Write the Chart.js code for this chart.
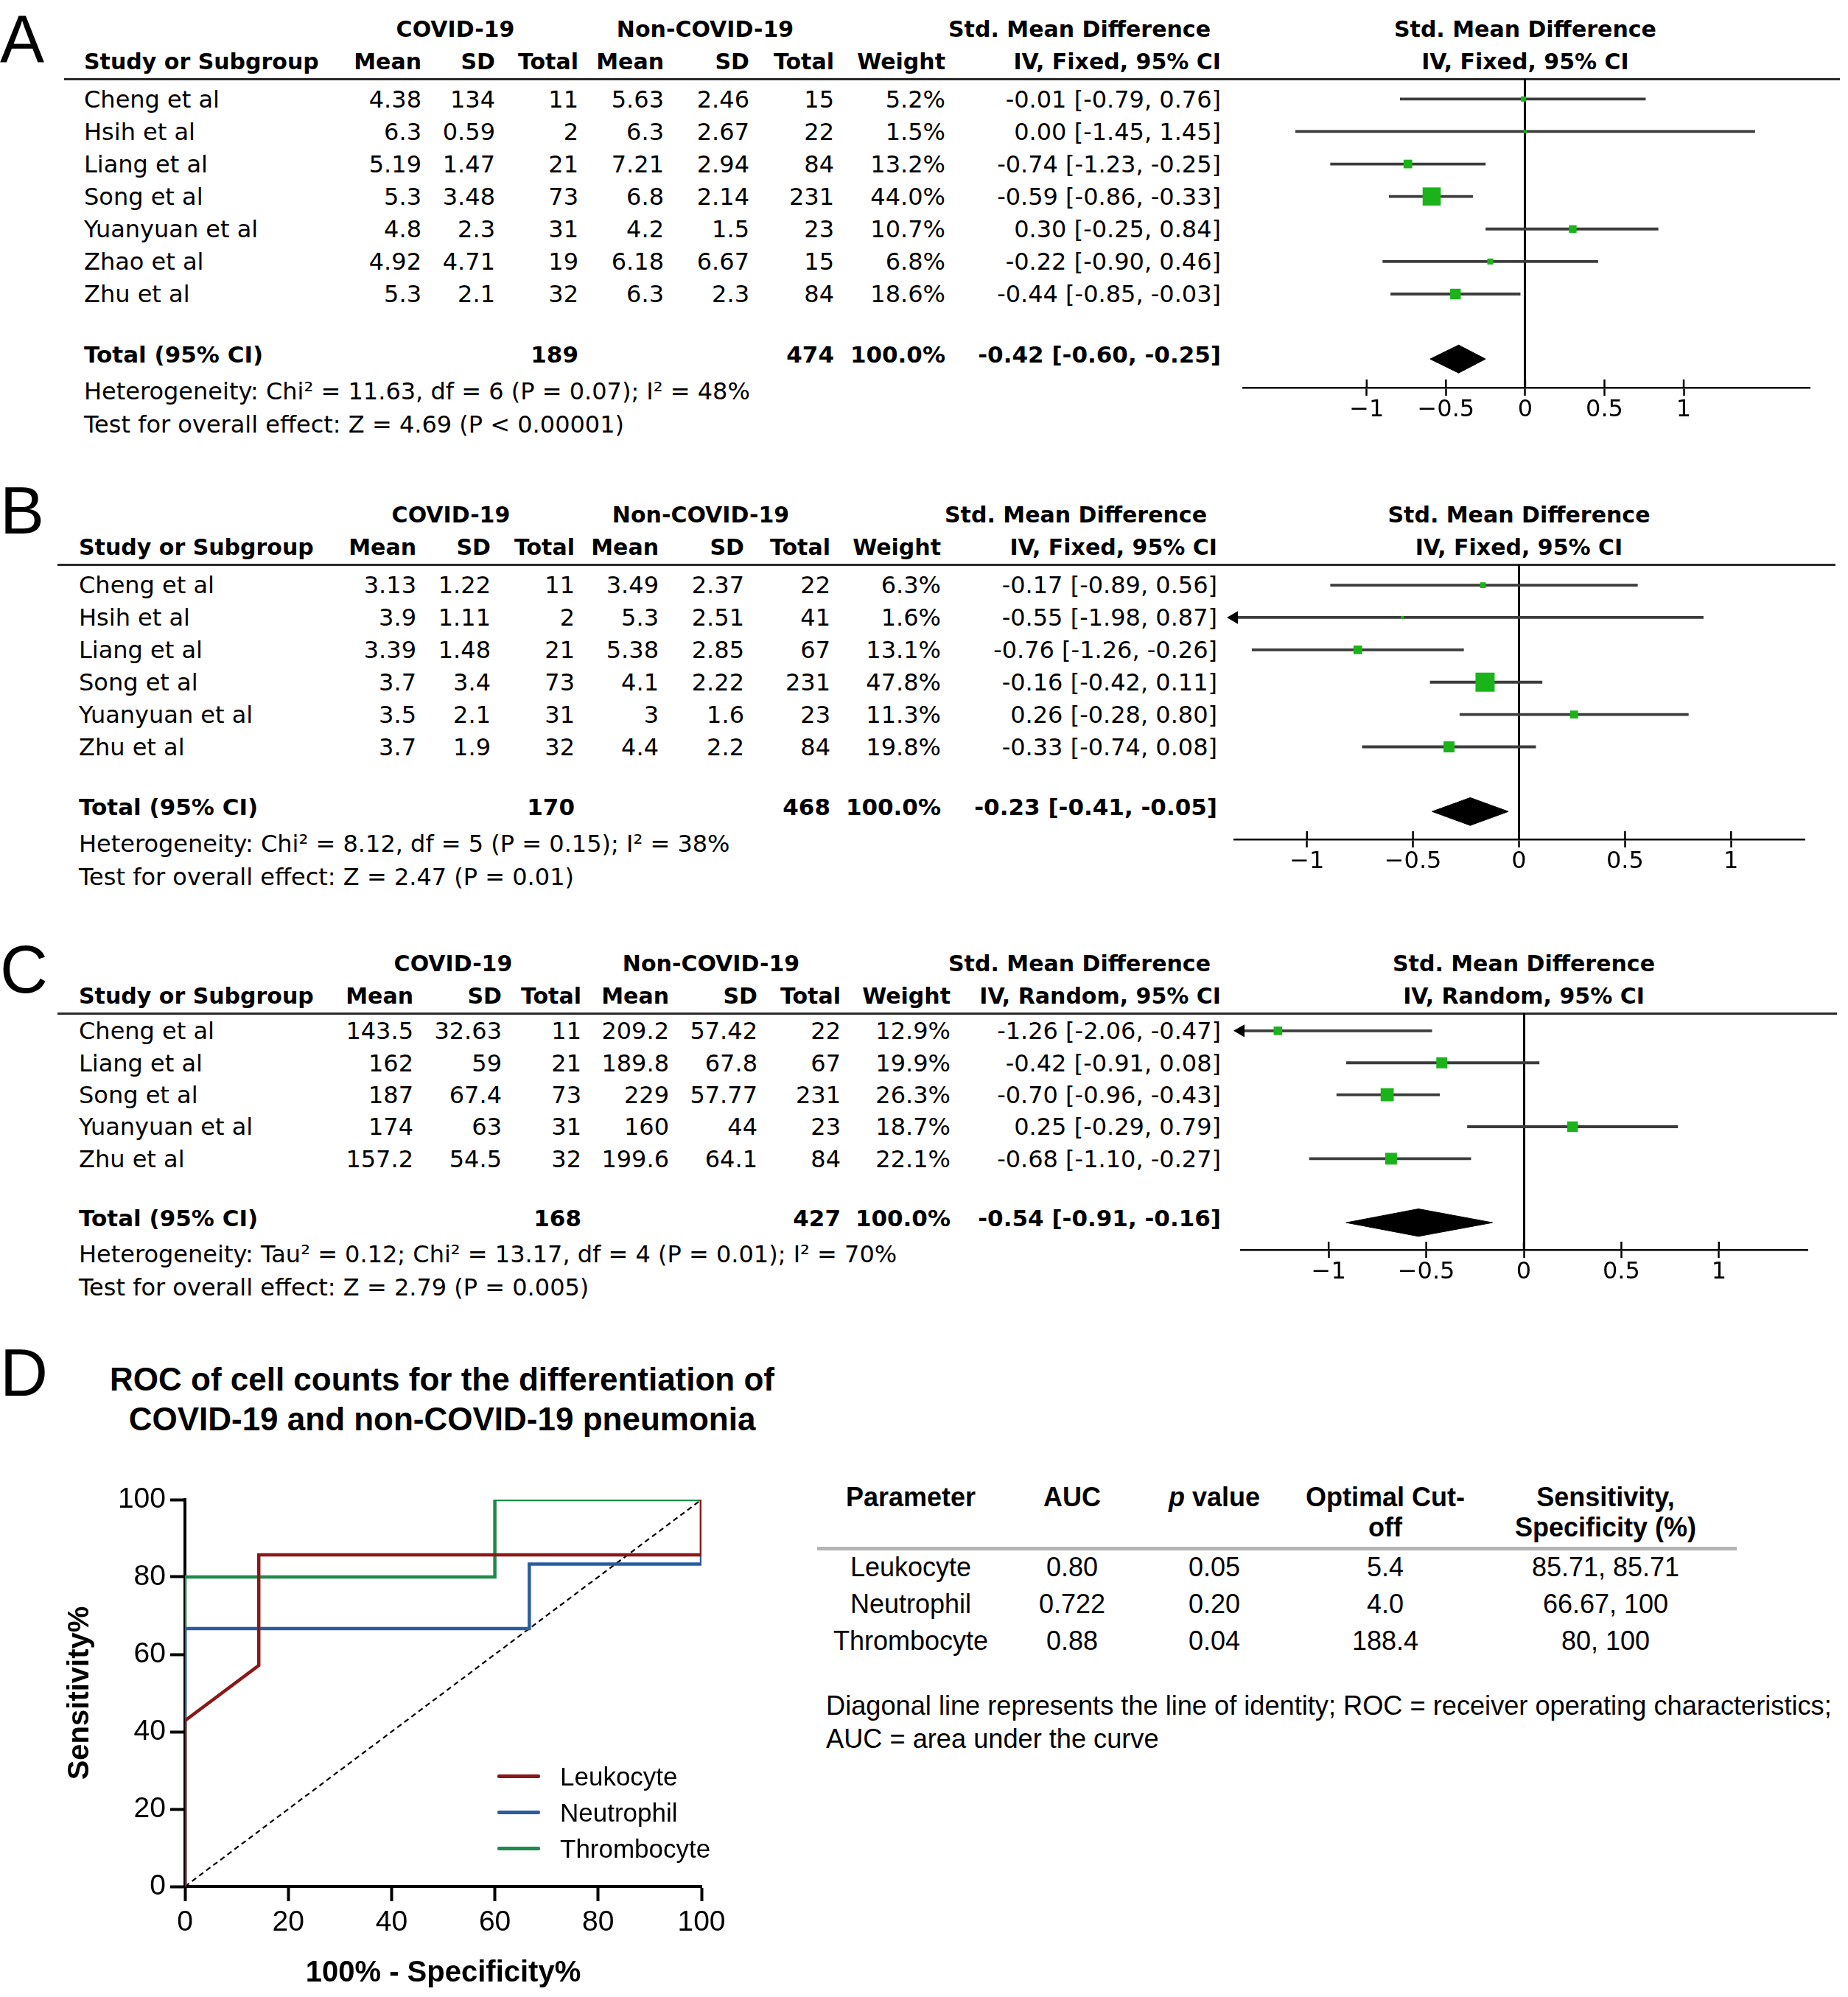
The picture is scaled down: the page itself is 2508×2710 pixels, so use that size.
<!DOCTYPE html>
<html><head><meta charset="utf-8">
<script src="https://cdn.jsdelivr.net/npm/chart.js@4.4.1/dist/chart.umd.min.js"></script>
<style>
html,body{margin:0;padding:0;background:#fff;}
body{width:2508px;height:2710px;position:relative;overflow:hidden;}
.t{position:absolute;white-space:nowrap;line-height:1;color:#000;}
canvas{position:absolute;}
.rule{position:absolute;}
</style></head><body>
<script>
// ---------------- DATA: Panel A ----------------
const aStudies   = ['Cheng et al','Hsih et al','Liang et al','Song et al','Yuanyuan et al','Zhao et al','Zhu et al'];
const aCovidMean = [4.38, 6.3, 5.19, 5.3, 4.8, 4.92, 5.3];
const aCovidSD   = [134, 0.59, 1.47, 3.48, 2.3, 4.71, 2.1];
const aCovidN    = [11, 2, 21, 73, 31, 19, 32];
const aNonMean   = [5.63, 6.3, 7.21, 6.8, 4.2, 6.18, 6.3];
const aNonSD     = [2.46, 2.67, 2.94, 2.14, 1.5, 6.67, 2.3];
const aNonN      = [15, 22, 84, 231, 23, 15, 84];
const aWeight    = [5.2, 1.5, 13.2, 44.0, 10.7, 6.8, 18.6];
const aSMD       = [-0.01, 0.00, -0.74, -0.59, 0.30, -0.22, -0.44];
const aLow       = [-0.79, -1.45, -1.23, -0.86, -0.25, -0.90, -0.85];
const aHigh      = [0.76, 1.45, -0.25, -0.33, 0.84, 0.46, -0.03];
const aTotalN    = [189, 474];
const aPooled    = [-0.42, -0.60, -0.25];
const aHet       = 'Heterogeneity: Chi² = 11.63, df = 6 (P = 0.07); I² = 48%';
const aTest      = 'Test for overall effect: Z = 4.69 (P < 0.00001)';

// ---------------- DATA: Panel B ----------------
const bStudies   = ['Cheng et al','Hsih et al','Liang et al','Song et al','Yuanyuan et al','Zhu et al'];
const bCovidMean = [3.13, 3.9, 3.39, 3.7, 3.5, 3.7];
const bCovidSD   = [1.22, 1.11, 1.48, 3.4, 2.1, 1.9];
const bCovidN    = [11, 2, 21, 73, 31, 32];
const bNonMean   = [3.49, 5.3, 5.38, 4.1, 3, 4.4];
const bNonSD     = [2.37, 2.51, 2.85, 2.22, 1.6, 2.2];
const bNonN      = [22, 41, 67, 231, 23, 84];
const bWeight    = [6.3, 1.6, 13.1, 47.8, 11.3, 19.8];
const bSMD       = [-0.17, -0.55, -0.76, -0.16, 0.26, -0.33];
const bLow       = [-0.89, -1.98, -1.26, -0.42, -0.28, -0.74];
const bHigh      = [0.56, 0.87, -0.26, 0.11, 0.80, 0.08];
const bTotalN    = [170, 468];
const bPooled    = [-0.23, -0.41, -0.05];
const bHet       = 'Heterogeneity: Chi² = 8.12, df = 5 (P = 0.15); I² = 38%';
const bTest      = 'Test for overall effect: Z = 2.47 (P = 0.01)';

// ---------------- DATA: Panel C ----------------
const cStudies   = ['Cheng et al','Liang et al','Song et al','Yuanyuan et al','Zhu et al'];
const cCovidMean = [143.5, 162, 187, 174, 157.2];
const cCovidSD   = [32.63, 59, 67.4, 63, 54.5];
const cCovidN    = [11, 21, 73, 31, 32];
const cNonMean   = [209.2, 189.8, 229, 160, 199.6];
const cNonSD     = [57.42, 67.8, 57.77, 44, 64.1];
const cNonN      = [22, 67, 231, 23, 84];
const cWeight    = [12.9, 19.9, 26.3, 18.7, 22.1];
const cSMD       = [-1.26, -0.42, -0.70, 0.25, -0.68];
const cLow       = [-2.06, -0.91, -0.96, -0.29, -1.10];
const cHigh      = [-0.47, 0.08, -0.43, 0.79, -0.27];
const cTotalN    = [168, 427];
const cPooled    = [-0.54, -0.91, -0.16];
const cHet       = 'Heterogeneity: Tau² = 0.12; Chi² = 13.17, df = 4 (P = 0.01); I² = 70%';
const cTest      = 'Test for overall effect: Z = 2.79 (P = 0.005)';

const forestTicks = [-1, -0.5, 0, 0.5, 1];

// ---------------- DATA: Panel D ----------------
const rocSeries   = ['Leukocyte', 'Neutrophil', 'Thrombocyte'];
const leukoX      = [0, 0, 14.29, 14.29, 100, 100];
const leukoY      = [0, 42.86, 57.14, 85.71, 85.71, 100];
const neutroX     = [0, 0, 66.67, 66.67, 100, 100];
const neutroY     = [0, 66.67, 66.67, 83.33, 83.33, 100];
const thromboX    = [0, 0, 60, 60, 100];
const thromboY    = [0, 80, 80, 100, 100];
const identityX   = [0, 100];
const identityY   = [0, 100];
const rocTicks    = [0, 20, 40, 60, 80, 100];

const dHeaders1   = ['Parameter', 'AUC', '<i>p</i> value', 'Optimal Cut-', 'Sensitivity,'];
const dHeaders2   = ['', '', '', 'off', 'Specificity (%)'];
const dAUC        = ['0.80', '0.722', '0.88'];
const dPValue     = ['0.05', '0.20', '0.04'];
const dCutoff     = ['5.4', '4.0', '188.4'];
const dSensSpec   = ['85.71, 85.71', '66.67, 100', '80, 100'];
const dNote1      = 'Diagonal line represents the line of identity; ROC = receiver operating characteristics;';
const dNote2      = 'AUC = area under the curve';

// ---------------- helpers ----------------
const W = 2508;
const DV = "'DejaVu Sans', Verdana, sans-serif";
const LS = "'Liberation Sans', Arial, Helvetica, sans-serif";
function txt(x, cy, s, o) {
  o = o || {};
  const d = document.createElement('div');
  d.className = 't';
  const size = o.size || 32;
  d.style.fontSize = size + 'px';
  d.style.fontFamily = o.fam || DV;
  if (o.bold) d.style.fontWeight = 'bold';
  d.style.top = (cy - 0.49 * size) + 'px';
  if (o.align === 'right') d.style.right = (W - x) + 'px';
  else if (o.align === 'center') { d.style.left = x + 'px'; d.style.transform = 'translateX(-50%)'; }
  else d.style.left = x + 'px';
  if (o.html) d.innerHTML = s; else d.textContent = s;
  document.body.appendChild(d);
  return d;
}
function rule(x1, x2, y, h, color) {
  const d = document.createElement('div');
  d.className = 'rule';
  d.style.left = x1 + 'px'; d.style.width = (x2 - x1) + 'px';
  d.style.top = (y - h / 2) + 'px'; d.style.height = h + 'px';
  d.style.background = color;
  document.body.appendChild(d);
}
function makeCanvas(l, t, w, h) {
  const c = document.createElement('canvas');
  c.width = w; c.height = h;
  c.style.left = l + 'px'; c.style.top = t + 'px';
  c.style.width = w + 'px'; c.style.height = h + 'px';
  document.body.appendChild(c);
  return c;
}
const f2 = v => v.toFixed(2);
const tickFmt = v => (v < 0 ? '\u2212' + Math.abs(v) : String(v));

const tickUp = {
  id: 'tickUp',
  afterDraw(chart) {
    const xs = chart.scales.x, ctx = chart.ctx, b = chart.chartArea.bottom;
    ctx.save(); ctx.strokeStyle = '#000'; ctx.lineWidth = 2.5;
    xs.ticks.forEach(t => {
      const px = xs.getPixelForValue(t.value);
      ctx.beginPath(); ctx.moveTo(px, b); ctx.lineTo(px, b - 11); ctx.stroke();
    });
    ctx.restore();
  }
};

function forest(L, D) {
  txt(0, L.letterY, L.letter, {fam: LS, size: 90});
  rule(L.ruleL, L.ruleR, L.ruleY, 3, '#2a2a2a');

  const padX = 22, axH = 50;
  const cl = L.axisL - padX, ct = L.ruleY;
  const cw = L.axisR - L.axisL + 2 * padX, ch = L.axisY - L.ruleY + axH;
  const canvas = makeCanvas(cl, ct, cw, ch);
  const n = D.studies.length;
  const totalIdx = n + 1;
  const sq = D.weight.map(w => (2 + 1.6 * Math.pow(w, 0.7)) / Math.SQRT2);

  const datasets = [];
  datasets.push({
    data: D.smd.map((v, i) => ({x: v, y: i})),
    pointStyle: 'rect', pointRadius: sq, pointBorderWidth: 0,
    backgroundColor: '#1ab41a', borderColor: '#1ab41a', showLine: false
  });
  const arrows = [];
  D.low.forEach((v, i) => { if (v < L.xmin) arrows.push({x: L.xmin, y: i}); });
  D.high.forEach((v, i) => { if (v > L.xmax) arrows.push({x: L.xmax, y: i}); });
  if (arrows.length) datasets.push({
    data: arrows, pointStyle: 'triangle', pointRadius: 10,
    pointRotation: arrows.map(p => p.x === L.xmin ? 270 : 90),
    backgroundColor: '#000', borderColor: '#000', pointBorderWidth: 0, clip: false, showLine: false
  });
  D.studies.forEach((s, i) => datasets.push({
    data: [{x: D.low[i], y: i}, {x: D.high[i], y: i}],
    showLine: true, borderColor: '#3c3c3c', borderWidth: 3.8, pointRadius: 0, clip: 0
  }));
  const dh = 0.43;
  const [pe, pl, ph] = D.pooled;
  datasets.push({
    type: 'line',
    data: [{x: pl, y: totalIdx}, {x: pe, y: totalIdx - dh}, {x: ph, y: totalIdx}, {x: pe, y: totalIdx + dh}, {x: pl, y: totalIdx}],
    borderColor: '#000', backgroundColor: '#000', borderWidth: 1, fill: 'shape', pointRadius: 0, tension: 0
  });

  const chart = new Chart(canvas, {
    type: 'scatter',
    data: {datasets},
    options: {
      responsive: false, animation: false, devicePixelRatio: 1,
      layout: {padding: {left: padX, right: padX, top: 0, bottom: 0}, autoPadding: false},
      plugins: {legend: {display: false}, tooltip: {enabled: false}},
      scales: {
        x: {
          type: 'linear', min: L.xmin, max: L.xmax,
          afterBuildTicks: s => { s.ticks = forestTicks.map(v => ({value: v})); },
          afterFit: s => { s.height = axH; },
          grid: {
            drawOnChartArea: true,
            color: c => (c.tick && c.tick.value === 0) ? '#000' : 'rgba(0,0,0,0)',
            lineWidth: 3, tickLength: 11, tickColor: '#000', tickWidth: 2.5
          },
          border: {display: true, color: '#000', width: 2.5},
          ticks: {padding: 0, color: '#000', font: {family: 'DejaVu Sans', size: 32}, callback: v => tickFmt(v), maxRotation: 0, autoSkip: false}
        },
        y: {type: 'linear', display: false, reverse: true, min: L.ymin, max: L.ymax}
      }
    },
    plugins: [tickUp]
  });

  const ys = chart.scales.y, xs = chart.scales.x;
  const rowY = i => ct + ys.getPixelForValue(i);
  const zeroX = cl + xs.getPixelForValue(0);
  const C = L.cols;
  const h2 = L.ruleY - 23, h1 = h2 - 44;
  const B = {bold: true, size: 30};
  txt(L.covidX, h1, 'COVID-19', Object.assign({align: 'center'}, B));
  txt(L.nonX, h1, 'Non-COVID-19', Object.assign({align: 'center'}, B));
  txt(C[7] - 14, h1, 'Std. Mean Difference', Object.assign({align: 'right'}, B));
  txt(zeroX, h1, 'Std. Mean Difference', Object.assign({align: 'center'}, B));
  txt(L.studyX, h2, 'Study or Subgroup', B);
  ['Mean', 'SD', 'Total', 'Mean', 'SD', 'Total', 'Weight', L.method].forEach((h, k) =>
    txt(C[k], h2, h, Object.assign({align: 'right'}, B)));
  txt(zeroX, h2, L.method, Object.assign({align: 'center'}, B));

  D.studies.forEach((s, i) => {
    const y = rowY(i);
    txt(L.studyX, y, s);
    const vals = [D.covidMean[i], D.covidSD[i], D.covidN[i], D.nonMean[i], D.nonSD[i], D.nonN[i],
      D.weight[i].toFixed(1) + '%', f2(D.smd[i]) + ' [' + f2(D.low[i]) + ', ' + f2(D.high[i]) + ']'];
    vals.forEach((v, k) => txt(C[k], y, String(v), {align: 'right'}));
  });
  const ty = rowY(totalIdx) - 6;
  const TB = {bold: true, size: 31};
  txt(L.studyX, ty, 'Total (95% CI)', TB);
  txt(C[2], ty, String(D.totalN[0]), Object.assign({align: 'right'}, TB));
  txt(C[5], ty, String(D.totalN[1]), Object.assign({align: 'right'}, TB));
  txt(C[6], ty, '100.0%', Object.assign({align: 'right'}, TB));
  txt(C[7], ty, f2(pe) + ' [' + f2(pl) + ', ' + f2(ph) + ']', Object.assign({align: 'right'}, TB));
  txt(L.studyX, ty + 49, D.het);
  txt(L.studyX, ty + 94, D.test);
}

forest({
  letter: 'A', letterY: 52, ruleL: 87, ruleR: 2497, ruleY: 107,
  axisL: 1687, axisR: 2455, axisY: 526, xmin: -1.78, xmax: 1.79, ymin: -0.62, ymax: 8.88,
  studyX: 114, covidX: 618, nonX: 957, method: 'IV, Fixed, 95% CI',
  cols: [572, 672, 785, 901, 1017, 1132, 1283, 1657]
}, {studies: aStudies, covidMean: aCovidMean, covidSD: aCovidSD, covidN: aCovidN, nonMean: aNonMean,
    nonSD: aNonSD, nonN: aNonN, weight: aWeight, smd: aSMD, low: aLow, high: aHigh,
    totalN: aTotalN, pooled: aPooled, het: aHet, test: aTest});

forest({
  letter: 'B', letterY: 692, ruleL: 78, ruleR: 2491, ruleY: 766,
  axisL: 1675, axisR: 2448, axisY: 1139, xmin: -1.343, xmax: 1.343, ymin: -0.64, ymax: 7.86,
  studyX: 107, covidX: 612, nonX: 951, method: 'IV, Fixed, 95% CI',
  cols: [565, 666, 780, 894, 1010, 1127, 1277, 1652]
}, {studies: bStudies, covidMean: bCovidMean, covidSD: bCovidSD, covidN: bCovidN, nonMean: bNonMean,
    nonSD: bNonSD, nonN: bNonN, weight: bWeight, smd: bSMD, low: bLow, high: bHigh,
    totalN: bTotalN, pooled: bPooled, het: bHet, test: bTest});

forest({
  letter: 'C', letterY: 1315, ruleL: 78, ruleR: 2493, ruleY: 1375,
  axisL: 1684, axisR: 2452, axisY: 1696, xmin: -1.45, xmax: 1.45, ymin: -0.55, ymax: 6.85,
  studyX: 107, covidX: 615, nonX: 965, method: 'IV, Random, 95% CI',
  cols: [561, 681, 789, 908, 1028, 1141, 1290, 1657]
}, {studies: cStudies, covidMean: cCovidMean, covidSD: cCovidSD, covidN: cCovidN, nonMean: cNonMean,
    nonSD: cNonSD, nonN: cNonN, weight: cWeight, smd: cSMD, low: cLow, high: cHigh,
    totalN: cTotalN, pooled: cPooled, het: cHet, test: cTest});

// ---------------- Panel D ----------------
txt(0, 1862, 'D', {fam: LS, size: 90});
txt(600, 1872, 'ROC of cell counts for the differentiation of', {fam: LS, size: 44, bold: true, align: 'center'});
txt(600, 1926, 'COVID-19 and non-COVID-19 pneumonia', {fam: LS, size: 44, bold: true, align: 'center'});

const rocColors = ['#8b1717', '#2b5d9e', '#1e8a4c'];
const rocXs = [leukoX, neutroX, thromboX];
const rocYs = [leukoY, neutroY, thromboY];
const rocDatasets = rocSeries.map((name, k) => ({
  label: name,
  data: rocXs[k].map((x, i) => ({x: x, y: rocYs[k][i]})),
  borderColor: rocColors[k], backgroundColor: rocColors[k], borderWidth: 4.5, pointRadius: 0, tension: 0, fill: false
}));
rocDatasets.push({
  label: 'identity', data: identityX.map((x, i) => ({x: x, y: identityY[i]})),
  borderColor: '#000', borderWidth: 2.2, borderDash: [7, 5], pointRadius: 0, tension: 0, fill: false
});
const rocCanvas = makeCanvas(40, 1995, 960, 715);
const rocTickFont = {family: 'Liberation Sans', size: 39};
const roc = new Chart(rocCanvas, {
  type: 'line',
  data: {datasets: rocDatasets},
  options: {
    responsive: false, animation: false, devicePixelRatio: 1,
    layout: {padding: {left: 40, top: 40, right: 48, bottom: 0}, autoPadding: false},
    plugins: {legend: {display: false}, tooltip: {enabled: false}},
    scales: {
      x: {
        type: 'linear', min: 0, max: 100,
        afterBuildTicks: s => { s.ticks = rocTicks.map(v => ({value: v})); },
        afterFit: s => { s.height = 150; },
        title: {display: true, text: '100% - Specificity%', color: '#000', font: {family: 'Liberation Sans', size: 40, weight: 'bold'}, padding: {top: 4, bottom: 8}},
        grid: {drawOnChartArea: false, tickLength: 20, tickWidth: 4, tickColor: '#000'},
        border: {display: true, color: '#000', width: 4},
        ticks: {padding: 6, color: '#000', font: rocTickFont, maxRotation: 0, autoSkip: false}
      },
      y: {
        type: 'linear', min: 0, max: 100,
        afterBuildTicks: s => { s.ticks = rocTicks.map(v => ({value: v})); },
        afterFit: s => { s.width = 171; },
        title: {display: true, text: 'Sensitivity%', color: '#000', font: {family: 'Liberation Sans', size: 40, weight: 'bold'}, padding: {top: 5, bottom: 4}},
        grid: {drawOnChartArea: false, tickLength: 20, tickWidth: 4, tickColor: '#000'},
        border: {display: true, color: '#000', width: 4},
        ticks: {padding: 6, color: '#000', font: rocTickFont, autoSkip: false}
      }
    }
  }
});

// HTML legend built from the chart's own datasets
const legendY = [2410, 2459, 2508];
roc.data.datasets.slice(0, rocSeries.length).forEach((ds, k) => {
  const sw = document.createElement('div');
  sw.className = 'rule';
  sw.style.left = '675px'; sw.style.width = '58px';
  sw.style.top = (legendY[k] - 2.5) + 'px'; sw.style.height = '5px';
  sw.style.background = ds.borderColor; sw.style.borderRadius = '2px';
  document.body.appendChild(sw);
  txt(760, legendY[k], ds.label, {fam: LS, size: 35});
});

// table D
const dColX = [1236, 1455, 1648, 1880, 2179];
dHeaders1.forEach((h, k) => txt(dColX[k], 2032, h, {fam: LS, size: 36, bold: true, align: 'center', html: true}));
dHeaders2.forEach((h, k) => { if (h) txt(dColX[k], 2073, h, {fam: LS, size: 36, bold: true, align: 'center'}); });
rule(1109, 2357, 2101, 5, '#b4b4b4');
const dRowY = [2127, 2177, 2227];
rocSeries.forEach((p, i) => {
  [p, dAUC[i], dPValue[i], dCutoff[i], dSensSpec[i]].forEach((v, k) =>
    txt(dColX[k], dRowY[i], v, {fam: LS, size: 36, align: 'center'}));
});
txt(1121, 2315, dNote1, {fam: LS, size: 36.2});
txt(1121, 2360, dNote2, {fam: LS, size: 36.2});
</script>
</body></html>
